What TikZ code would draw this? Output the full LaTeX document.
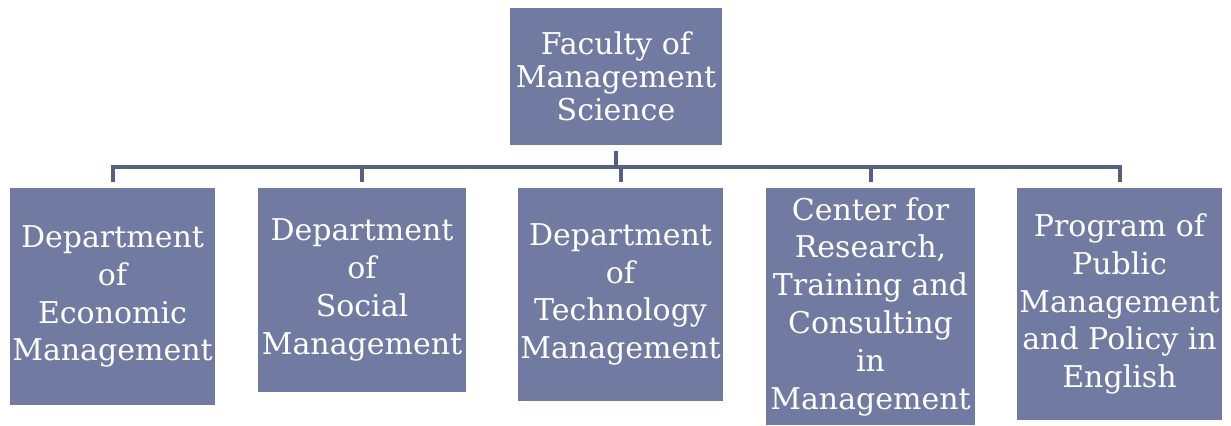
\documentclass[tikz,border=0pt]{standalone}
\usepackage{fontspec}
\setmainfont{DejaVu Serif}
\usepackage{xcolor}
\usepackage{tikz}
\usetikzlibrary{positioning}
\definecolor{boxblue}{RGB}{113,123,162}
\definecolor{lineblue}{RGB}{86,96,128}

\begin{document}
\begin{tikzpicture}[x=0.5pt,y=-0.5pt,semithick]
  \tikzstyle{unit}=[draw=none, fill=boxblue, text=white, inner sep=0pt, align=center,
                    font=\fontsize{15pt}{18.9pt}\selectfont]
  \tikzstyle{link}=[draw=lineblue, line width=2pt, shorten <=2.5pt, shorten >=2.5pt,
                    to path={-- ++(0,21) -| (\tikztotarget)}]
  \useasboundingbox (0,0) rectangle (1231,426);
  \node[unit, minimum width=106pt, minimum height=68.5pt,
        font=\fontsize{15pt}{16.6pt}\selectfont] (fac) at (616,76.5) {Faculty of\\Management\\Science};
  \node[unit, minimum width=102.5pt, minimum height=108.5pt] (econ) at (112.5,296.5) {Department\\of\\Economic\\Management};
  \node[unit, minimum width=104pt, minimum height=102pt] (soc) at (362,290) {Department\\of\\Social\\Management};
  \node[unit, minimum width=102.5pt, minimum height=106.5pt] (tech) at (620.5,294.5) {Department\\of\\Technology\\Management};
  \node[unit, minimum width=104.5pt, minimum height=118.5pt] (ctr) at (870.5,306.5) {Center for\\Research,\\Training and\\Consulting\\in\\Management};
  \node[unit, minimum width=102.5pt, minimum height=116pt] (prog) at (1119.5,304) {Program of\\Public\\Management\\and Policy in\\English};
  \path
    (fac.south) edge[link] (econ.north)
    (fac.south) edge[link] (soc.north)
    (fac.south) edge[link] (tech.north)
    (fac.south) edge[link] (ctr.north)
    (fac.south) edge[link] (prog.north);
\end{tikzpicture}
\end{document}
